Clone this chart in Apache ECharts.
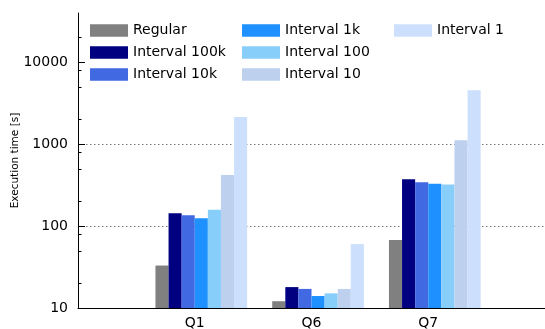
<!DOCTYPE html>
<html>
<head>
<meta charset="utf-8">
<script src="https://cdn.jsdelivr.net/npm/echarts@6/dist/echarts.min.js"></script>
<style>
  html, body { margin: 0; padding: 0; background: #fff; }
  #chart { width: 545px; height: 329px; }
</style>
</head>
<body>
<div id="chart"></div>
<script>
// Query categories; empty slots pad the axis on both sides
const categories = ['', 'Q1', 'Q6', 'Q7', ''];

// Execution time in seconds per configuration
const regular      = [null, 33,   12.1, 67.5, null];
const interval100k = [null, 144,  18.0, 374,  null];
const interval10k  = [null, 136,  17.1, 344,  null];
const interval1k   = [null, 125,  14.0, 328,  null];
const interval100  = [null, 158,  15.1, 322,  null];
const interval10   = [null, 422,  17.1, 1119, null];
const interval1    = [null, 2150, 60.3, 4560, null];

// Y axis ticks
const majorTicks = [10, 100, 1000, 10000];
const minorTicks = [20, 50, 80, 200, 500, 800, 2000, 5000, 8000, 20000];
const gridValues = [100, 1000];

const seriesDefs = [
  { name: 'Regular',       data: regular,      color: '#808080' },
  { name: 'Interval 100k', data: interval100k, color: '#000080' },
  { name: 'Interval 10k',  data: interval10k,  color: '#4169e1' },
  { name: 'Interval 1k',   data: interval1k,   color: '#1e90ff' },
  { name: 'Interval 100',  data: interval100,  color: '#87cefa' },
  { name: 'Interval 10',   data: interval10,   color: '#bdd1ee' },
  { name: 'Interval 1',    data: interval1,    color: '#cce0fd' }
];

const FONT = 'DejaVu Sans';
const BAR_W = 13.1;

const logAxisBase = {
  type: 'log',
  logBase: 10,
  min: 10,
  max: 40000,
  interval: 1,
  offset: 0
};

const series = [
  // empty slot so the group sits half a bar right of each category
  { name: 'spacer', type: 'bar', barWidth: BAR_W, barGap: '0%', data: categories.map(() => null), silent: true }
].concat(seriesDefs.map(d => ({
  name: d.name,
  type: 'bar',
  barWidth: BAR_W,
  barGap: '0%',
  data: d.data,
  itemStyle: { color: d.color },
  emphasis: { disabled: true }
})));

function legendCol(names, left) {
  return {
    data: names,
    orient: 'vertical',
    left: left,
    top: 23.5,
    padding: 0,
    itemWidth: 38,
    itemHeight: 12.5,
    itemGap: 8,
    icon: 'rect',
    selectedMode: false,
    textStyle: { fontFamily: FONT, fontSize: 14, color: '#000' }
  };
}

const option = {
  animation: false,
  backgroundColor: '#fff',
  grid: { left: 78, right: 0, top: 13, bottom: 21, containLabel: false, outerBoundsMode: 'none' },
  legend: [
    legendCol(['Regular', 'Interval 100k', 'Interval 10k'], 90),
    legendCol(['Interval 1k', 'Interval 100', 'Interval 10'], 242),
    legendCol(['Interval 1'], 394)
  ],
  xAxis: {
    type: 'category',
    data: categories,
    boundaryGap: false,
    axisLine: { lineStyle: { color: '#000', width: 1 } },
    axisTick: { show: false },
    axisLabel: { fontFamily: FONT, fontSize: 14, color: '#000', margin: 8, interval: 0 },
    splitLine: { show: false }
  },
  yAxis: [
    Object.assign({}, logAxisBase, {
      name: 'Execution time [s]',
      nameLocation: 'middle',
      nameGap: 57,
      nameMoveOverlap: false,
      nameTextStyle: { fontFamily: FONT, fontSize: 10.5, color: '#000' },
      axisLine: { show: true, lineStyle: { color: '#000', width: 1 } },
      axisTick: { show: true, inside: true, length: 7, customValues: majorTicks, lineStyle: { color: '#000' } },
      axisLabel: {
        customValues: majorTicks,
        formatter: v => String(Math.round(v)),
        fontFamily: FONT, fontSize: 14, color: '#000', margin: 10
      },
      splitLine: { show: false },
      minorTick: { show: false }
    }),
    // minor ticks
    Object.assign({}, logAxisBase, {
      position: 'left',
      axisLine: { show: false },
      axisTick: { show: true, inside: true, length: 3.5, customValues: minorTicks, lineStyle: { color: '#000' } },
      axisLabel: { show: false },
      splitLine: { show: false }
    }),
    // dotted reference lines
    Object.assign({}, logAxisBase, {
      position: 'left',
      axisLine: { show: false },
      axisTick: { show: false, customValues: gridValues },
      axisLabel: { show: false },
      splitLine: { show: true, lineStyle: { color: '#777', type: [1.5, 2.5], width: 1 } }
    })
  ],
  series: series
};

const chart = echarts.init(document.getElementById('chart'), null, { renderer: 'canvas' });
chart.setOption(option);
</script>
</body>
</html>
